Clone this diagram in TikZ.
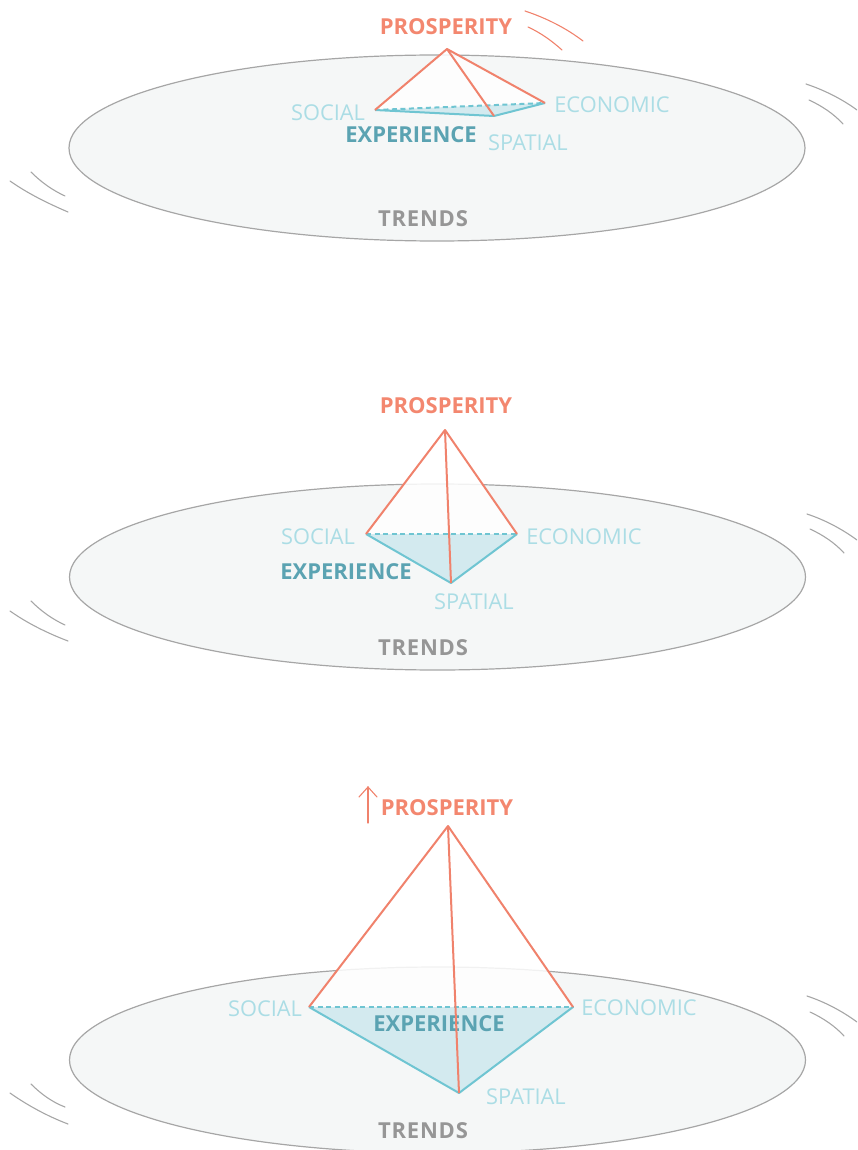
\documentclass[tikz,border=0pt]{standalone}
\usepackage{fontspec}
\setmainfont{Open Sans}
\newfontfamily\trackedfont[LetterSpace=3.6]{Open Sans}
\definecolor{salmon}{HTML}{F0826C}
\definecolor{salmontext}{HTML}{F3876F}
\definecolor{tealline}{HTML}{6FC5D2}
\definecolor{tealfill}{HTML}{D3EAEF}
\definecolor{tealtext}{HTML}{5BA3B2}
\definecolor{teallight}{HTML}{ABDDE5}
\definecolor{greytext}{HTML}{969696}
\definecolor{discfill}{HTML}{F5F7F7}
\definecolor{discline}{HTML}{A6A6A6}
\tikzset{
  disc/.style={draw=discline,fill=discfill,line width=1.2pt},
  motiongrey/.style={draw=discline,line width=1.1pt,line cap=round},
  motionred/.style={draw=salmon,line width=1.1pt,line cap=round},
  baseface/.style={fill=tealfill,draw=none},
  veil/.style={fill=white,fill opacity=0.85,draw=none},
  rear/.style={draw=tealline,line width=2pt,dash pattern=on 5pt off 3.5pt},
  front/.style={draw=tealline,line width=2pt,line join=round},
  ridge/.style={draw=salmon,line width=2pt,line join=round},
  lab/.style={font=\fontsize{21.8}{26}\selectfont,text=teallight,inner sep=0pt,yshift=-1pt},
  labprosp/.style={font=\fontsize{22}{26}\selectfont\bfseries,text=salmontext,inner sep=0pt,yshift=-1pt},
  labexp/.style={font=\fontsize{22}{26}\selectfont\bfseries,text=tealtext,inner sep=0pt,yshift=-1pt},
  labtrend/.style={font=\fontsize{22}{26}\selectfont\trackedfont\bfseries,text=greytext,inner sep=0pt,yshift=-1pt},
}
\begin{document}
\begin{tikzpicture}[x=1pt,y=-1pt]
\useasboundingbox (0,0) rectangle (857,1150);
\clip (0,0) rectangle (857,1150);
% ---------- top
\coordinate (ta) at (447,49);
\coordinate (tb) at (375,110);
\coordinate (tc) at (494,116);
\coordinate (td) at (545,103);
\draw[disc] (437,148) ellipse [x radius=368,y radius=93];
\path[veil] (ta)--(tb)--(tc)--(td)--cycle;
\path[baseface] (tb)--(tc)--(td)--cycle;
\node[labtrend] (ttr) at (423,218) {TRENDS};
\node[lab] (tso) at (328,112) {SOCIAL};
\node[lab] (tec) at (612,104) {ECONOMIC};
\node[lab] (tsp) at (528,142) {SPATIAL};
\node[labexp] (tex) at (411,134) {EXPERIENCE};
\node[labprosp] (tpr) at (446,26) {PROSPERITY};
\draw[rear] (tb)--(td);
\draw[front] (tb)--(tc)--(td);
\draw[ridge] (tb)--(ta)--(td);
\draw[ridge] (ta)--(tc);
\draw[motionred] (525,11) .. controls (546,18) and (566,28) .. (583,41);
\draw[motionred] (528,27) .. controls (541,33) and (552,41) .. (562,50);
\draw[motiongrey] (10,181) .. controls (27,193) and (47,203) .. (68,212);
\draw[motiongrey] (31,172) .. controls (41,182) and (52,190) .. (65,196);
\draw[motiongrey] (806,84) .. controls (824,90) and (842,99) .. (857,110);
\draw[motiongrey] (809,100) .. controls (822,106) and (834,114) .. (843,124);
% ---------- middle
\coordinate (ma) at (445,430);
\coordinate (mb) at (366,534);
\coordinate (mc) at (451,583);
\coordinate (md) at (517,534);
\draw[disc] (437.5,577) ellipse [x radius=368,y radius=93];
\path[veil] (ma)--(mb)--(md)--cycle;
\path[baseface] (mb)--(mc)--(md)--cycle;
\node[labtrend] (mtr) at (423,647) {TRENDS};
\node[lab] (mso) at (318,536) {SOCIAL};
\node[lab] (mec) at (584,536) {ECONOMIC};
\node[lab] (msp) at (474,601) {SPATIAL};
\node[labexp] (mex) at (346,571) {EXPERIENCE};
\node[labprosp] (mpr) at (446,405) {PROSPERITY};
\draw[rear] (mb)--(md);
\draw[front] (mb)--(mc)--(md);
\draw[ridge] (mb)--(ma)--(md);
\draw[ridge] (ma)--(mc);
\draw[motiongrey] (10,611) .. controls (27,623) and (47,633) .. (68,641);
\draw[motiongrey] (31,601) .. controls (41,611) and (52,619) .. (65,625);
\draw[motiongrey] (807,514) .. controls (825,520) and (842,529) .. (857,540);
\draw[motiongrey] (810,529) .. controls (823,535) and (835,543) .. (844,553);
% ---------- bottom
\coordinate (ba) at (448,826);
\coordinate (bb) at (309,1007);
\coordinate (bc) at (459,1093);
\coordinate (bd) at (573,1007);
\coordinate (bu) at (368,823);
\coordinate (bv) at (368,787);
\coordinate (bl) at (359,797);
\coordinate (br) at (377,797);
\draw[disc] (437.5,1060) ellipse [x radius=368,y radius=93];
\path[veil] (ba)--(bb)--(bd)--cycle;
\path[baseface] (bb)--(bc)--(bd)--cycle;
\node[labtrend] (btr) at (423,1130) {TRENDS};
\node[lab] (bso) at (265,1008) {SOCIAL};
\node[lab] (bec) at (639,1007) {ECONOMIC};
\node[lab] (bsp) at (526,1096) {SPATIAL};
\node[labexp] (bex) at (439,1023) {EXPERIENCE};
\node[labprosp] (bpr) at (447,807) {PROSPERITY};
\draw[rear] (bb)--(bd);
\draw[front] (bb)--(bc)--(bd);
\draw[ridge] (bb)--(ba)--(bd);
\draw[ridge] (ba)--(bc);
\draw[motionred] (bu)--(bv);
\draw[motionred] (bl)--(bv)--(br);
\draw[motiongrey] (10,1093) .. controls (27,1105) and (47,1116) .. (68,1124);
\draw[motiongrey] (31,1084) .. controls (41,1094) and (52,1102) .. (65,1107);
\draw[motiongrey] (807,996) .. controls (825,1002) and (842,1011) .. (857,1022);
\draw[motiongrey] (810,1012) .. controls (823,1018) and (835,1026) .. (844,1036);
\end{tikzpicture}
\end{document}
